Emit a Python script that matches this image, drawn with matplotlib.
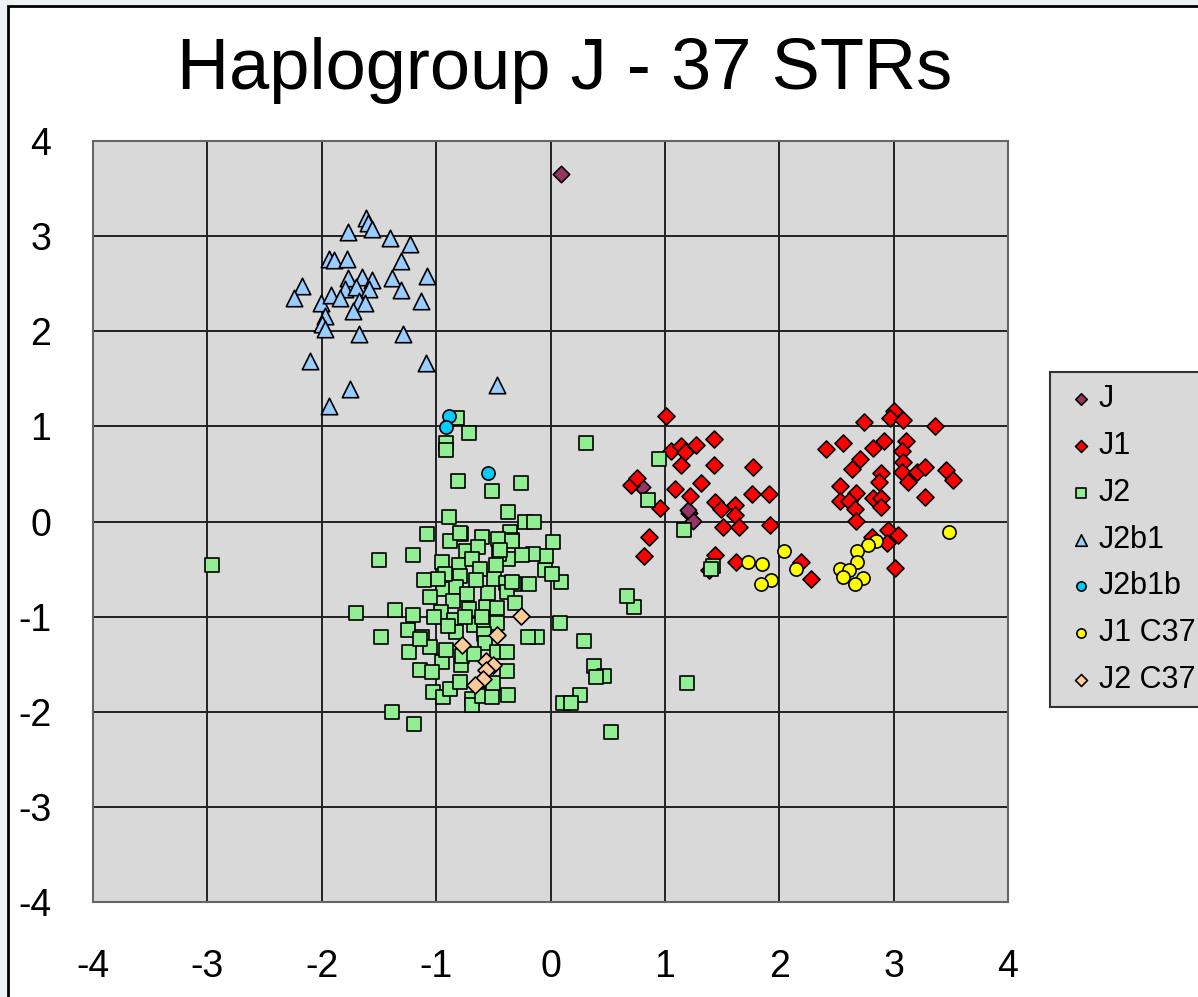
import matplotlib.pyplot as plt
from matplotlib.patches import Rectangle

plt.rcParams['font.family'] = ['Liberation Sans', 'DejaVu Sans']

# series data
j_x = [0.09, 0.80, 1.21, 1.25, 1.20]
j_y = [3.65, 0.36, 0.09, 0.01, 0.12]

j1_x = [1.01, 1.05, 1.14, 1.18, 1.27, 1.14, 1.43, 1.43, 1.77, 0.70, 0.76, 1.09, 1.32, 1.22,
        0.96, 1.44, 1.49, 1.61, 1.61, 1.76, 1.91, 1.51, 1.65, 1.92, 0.86, 0.82, 1.62, 2.19,
        2.28, 1.44, 1.39, 2.41, 3.00, 2.97, 3.08, 2.74, 3.36, 2.56, 2.82, 2.92, 3.11, 3.07,
        2.71, 3.08, 2.64, 2.89, 2.87, 3.07, 3.20, 3.27, 3.46, 3.52, 3.13, 2.53, 2.67, 2.53,
        2.61, 2.82, 2.89, 2.89, 2.66, 3.27, 2.67, 2.95, 3.04, 2.94, 2.81, 3.01]
j1_y = [1.11, 0.74, 0.79, 0.73, 0.80, 0.59, 0.87, 0.59, 0.57, 0.38, 0.46, 0.34, 0.40, 0.27,
        0.14, 0.20, 0.13, 0.17, 0.07, 0.29, 0.29, -0.06, -0.06, -0.04, -0.16, -0.36, -0.43, -0.43,
        -0.60, -0.35, -0.51, 0.76, 1.16, 1.09, 1.07, 1.05, 1.00, 0.83, 0.77, 0.85, 0.85, 0.74,
        0.66, 0.63, 0.55, 0.51, 0.42, 0.52, 0.52, 0.57, 0.54, 0.44, 0.42, 0.37, 0.30, 0.22,
        0.22, 0.25, 0.25, 0.15, 0.13, 0.26, 0.01, -0.09, -0.14, -0.23, -0.16, -0.49]

j2_x = [-0.82, -0.71, -0.91, -0.91, -0.81, -0.51, -0.26, -0.89, -0.37, -1.08, -1.50, -1.20,
        -1.70, -1.36, -1.20, -1.48, 0.08, 0.02, 0.09, -0.19, -0.05, -0.04, -0.15, -0.25, -0.22,
        -0.14, -0.35, -0.34, -0.46, -0.60, -0.78, -0.88, -0.74, -0.63, -0.37, -0.45, -0.95,
        -0.80, -0.69, -1.11, -0.79, -0.49, -0.39, -0.32, -0.38, -0.31, -0.94, -0.83, -0.73,
        -1.05, -0.85, -0.71, -0.56, -0.47, -0.96, -1.02, -0.84, -0.67, -0.58, -0.47, -1.25,
        -1.12, -0.83, -0.12, -0.20, -1.24, -1.14, -1.03, -0.94, -0.88, -0.79, -0.69, -0.69,
        -0.60, -0.51, -0.50, -0.37, -0.38, -0.78, -0.95, -1.04, -0.91, -0.77, -1.05, -1.14,
        -0.58, -0.57, -0.67, -0.47, -0.38, 0.29, 0.38, 0.47, 0.40, 0.26, 0.11, 0.18, 0.53,
        -1.39, -1.19, 0.73, 0.67, -2.96, 1.19, 0.31, 0.95, 0.85, 1.17, 1.42, 1.40, -0.79,
        -0.34, -0.44, -0.48, 0.01, -0.34, -0.92, -0.62, -0.55, -0.90, -0.75, -0.65, -0.98,
        -0.60]
j2_y = [1.09, 0.93, 0.82, 0.75, 0.43, 0.32, 0.40, 0.05, 0.10, -0.13, -0.40, -0.35,
        -0.96, -0.93, -0.98, -1.21, -1.07, -0.22, -0.64, -0.66, -0.51, -0.36, -0.34, -0.35, -0.01,
        -0.01, -0.11, -0.19, -0.18, -0.16, -0.13, -0.20, -0.31, -0.27, -0.39, -0.34, -0.43,
        -0.46, -0.39, -0.62, -0.57, -0.60, -0.65, -0.66, -0.74, -0.86, -0.71, -0.69, -0.76,
        -0.79, -0.84, -0.92, -0.90, -0.91, -0.95, -1.00, -1.04, -1.09, -1.12, -1.07, -1.14,
        -1.21, -1.16, -1.21, -1.21, -1.37, -1.56, -1.79, -1.85, -1.76, -1.69, -1.87, -1.93,
        -1.83, -1.84, -1.70, -1.82, -1.57, -1.51, -1.48, -1.58, -1.35, -1.41, -1.32, -1.23,
        -1.18, -1.28, -1.39, -1.37, -1.37, -1.26, -1.52, -1.62, -1.63, -1.82, -1.91, -1.91, -2.21,
        -2.00, -2.13, -0.90, -0.78, -0.46, -1.70, 0.83, 0.66, 0.23, -0.09, -0.47, -0.50, -0.12,
        -0.20, -0.30, -0.46, -0.55, -0.64, -0.55, -0.50, -0.75, -1.10, -1.00, -0.62, -0.60,
        -1.00]

j2b1_x = [-1.61, -1.60, -1.56, -1.77, -1.40, -1.23, -1.94, -1.89, -1.78, -1.31, -2.17, -2.24,
          -2.01, -1.92, -1.77, -1.65, -1.56, -1.39, -1.08, -1.80, -1.70, -1.59, -1.31, -1.84,
          -1.67, -1.62, -1.13, -1.73, -1.97, -2.00, -1.97, -1.67, -1.29, -2.10, -1.09, -1.75,
          -1.94, -0.47]
j2b1_y = [3.19, 3.14, 3.07, 3.04, 2.98, 2.92, 2.76, 2.75, 2.76, 2.74, 2.48, 2.35,
          2.30, 2.38, 2.56, 2.57, 2.54, 2.56, 2.58, 2.44, 2.46, 2.44, 2.43, 2.35,
          2.32, 2.30, 2.32, 2.21, 2.16, 2.08, 2.02, 1.97, 1.97, 1.69, 1.67, 1.39,
          1.21, 1.44]

j2b1b_x = [-0.89, -0.91, -0.55]
j2b1b_y = [1.11, 0.99, 0.51]

j1c37_x = [2.04, 1.73, 1.85, 1.93, 1.84, 2.15, 3.48, 2.85, 2.78, 2.68, 2.68, 2.53, 2.61,
           2.56, 2.73, 2.66]
j1c37_y = [-0.31, -0.43, -0.45, -0.61, -0.66, -0.50, -0.11, -0.20, -0.25, -0.31, -0.43,
           -0.50, -0.51, -0.58, -0.59, -0.66]

j2c37_x = [-0.26, -0.47, -0.77, -0.56, -0.50, -0.56, -0.59, -0.66]
j2c37_y = [-0.99, -1.19, -1.30, -1.47, -1.51, -1.56, -1.66, -1.72]

ticks = [-4, -3, -2, -1, 0, 1, 2, 3, 4]

W, H = 1198, 997
fig = plt.figure(figsize=(W / 100, H / 100), dpi=100)
fig.patch.set_facecolor('#eef1f6')
# white chart area with black border (left/top visible)
fig.patches.append(Rectangle((8 / W, -0.01), 1.0, 1 - 6 / H + 0.01, transform=fig.transFigure,
                             facecolor='white', edgecolor='black', linewidth=2, zorder=-10))

ax = fig.add_axes([93 / W, 1 - 902 / H, (1008 - 93) / W, (902 - 141) / H])
ax.set_facecolor('#d9d9d9')
ax.set_xlim(-4, 4)
ax.set_ylim(-4, 4)
ax.set_xticks(ticks)
ax.set_yticks(ticks)
ax.set_xticklabels([str(t) for t in ticks])
ax.set_yticklabels([str(t) for t in ticks])
ax.tick_params(length=0, labelsize=27)
ax.tick_params(axis='x', pad=34)
ax.tick_params(axis='y', pad=30)
ax.grid(True, color='#222222', linewidth=1.4)
ax.set_axisbelow(True)
for s in ax.spines.values():
    s.set_color('#666666')
    s.set_linewidth(1.5)

kw = dict(edgecolors='black', linewidths=1.2)
ax.scatter(j_x, j_y, marker='D', s=70, c='#993366', label='J', zorder=3, **kw)
ax.scatter(j1_x, j1_y, marker='D', s=75, c='#ff0000', label='J1', zorder=3, **kw)
ax.scatter(j2_x, j2_y, marker='s', s=105, c='#92ee92', label='J2', zorder=3, **kw)
ax.scatter(j2b1_x, j2b1_y, marker='^', s=140, c='#99ccff', label='J2b1', zorder=3, **kw)
ax.scatter(j2b1b_x, j2b1b_y, marker='o', s=90, c='#00ccff', label='J2b1b', zorder=3, **kw)
ax.scatter(j1c37_x, j1c37_y, marker='o', s=90, c='#ffff00', label='J1 C37', zorder=3, **kw)
ax.scatter(j2c37_x, j2c37_y, marker='D', s=75, c='#ffcc99', label='J2 C37', zorder=3, **kw)

leg = fig.legend(loc='upper left', bbox_to_anchor=(1050 / W, 1 - 372 / H),
                 bbox_transform=fig.transFigure, borderaxespad=0, fontsize=22,
                 markerscale=0.7, handletextpad=0.0, labelspacing=0.55, borderpad=0.4,
                 handlelength=1.2, fancybox=False, framealpha=1)
leg.get_frame().set_facecolor('#d9d9d9')
leg.get_frame().set_edgecolor('#333333')
leg.get_frame().set_linewidth(1.5)

fig.text(565 / W, 1 - 70 / H, 'Haplogroup J - 37 STRs', ha='center', va='center', fontsize=52)

fig.savefig('out.png', dpi=100)
